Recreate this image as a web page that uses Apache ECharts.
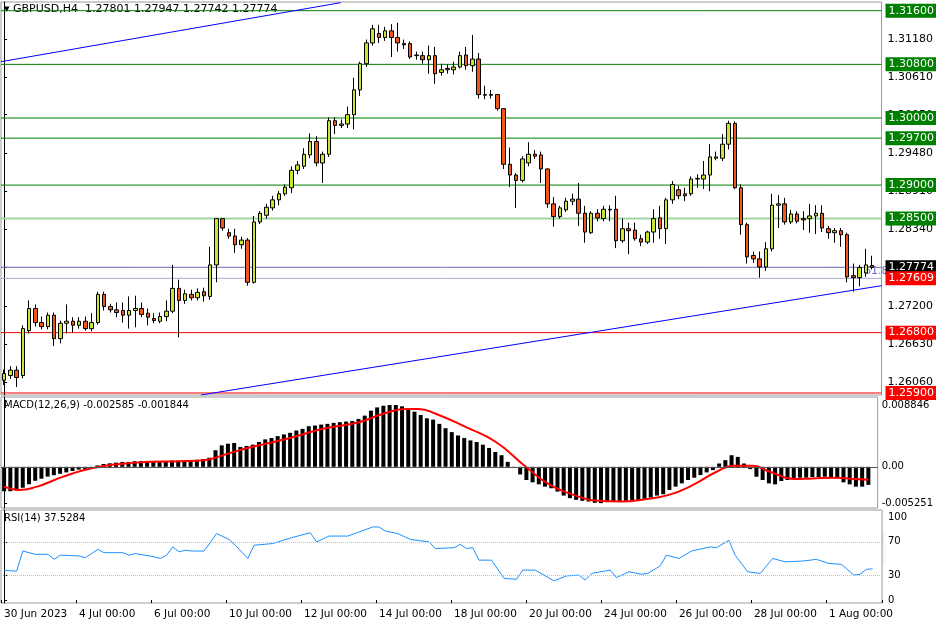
<!DOCTYPE html>
<html><head><meta charset="utf-8">
<script src="https://cdn.jsdelivr.net/npm/echarts@6/dist/echarts.min.js"></script>
<style>html,body{margin:0;padding:0;background:#fff}#c{width:936px;height:624px}</style>
</head><body><div id="c"></div>
<script>
// prices in 1e-4 units
const OPEN=[12609,12616,12624,12616,12683,12716,12695,12689,12706,12671,
12694,12697,12691,12697,12686,12695,12737,12719,12714,12713,
12706,12713,12716,12709,12701,12697,12704,12712,12746,12728,
12737,12732,12741,12734,12781,12850,12829,12824,12811,12818,
12755,12845,12855,12866,12878,12887,12896,12922,12928,12945,
12965,12933,12946,12996,12989,12991,13005,13042,13081,13112,
13126,13120,13130,13120,13111,13111,13093,13093,13087,13093,
13068,13072,13072,13076,13094,13078,13088,13034,13035,13035,
13014,12931,12915,12907,12933,12946,12945,12924,12872,12853,
12863,12876,12879,12858,12829,12858,12850,12863,12864,12817,
12835,12833,12820,12815,12830,12851,12835,12878,12893,12887,
12887,12909,12909,12915,12940,12940,12961,12992,12896,12841,
12795,12790,12778,12805,12870,12872,12845,12857,12850,12850,
12854,12858,12835,12829,12832,12826,12765,12762,12769,12780.1];
const CLOSE=[12619,12624,12613,12686,12716,12695,12689,12706,12671,12694,
12697,12691,12697,12686,12695,12737,12719,12714,12710,12706,
12713,12716,12707,12703,12698,12704,12712,12746,12728,12738,
12732,12740,12735,12781,12850,12836,12824,12811,12818,12755,
12845,12858,12867,12878,12887,12897,12922,12930,12946,12965,
12933,12946,12996,12989,12991,13005,13042,13081,13112,13133,
13120,13130,13120,13112,13109,13091,13094,13087,13093,13066,
13072,13074,13076,13093,13078,13088,13035,13035,13034,13014,
12931,12915,12907,12939,12946,12943,12924,12872,12853,12866,
12876,12879,12858,12830,12858,12851,12864,12864,12817,12835,
12832,12820,12815,12830,12850,12835,12878,12901,12884,12884,
12909,12910,12915,12942,12942,12961,12992,12896,12841,12793,
12790,12778,12805,12870,12872,12845,12857,12846,12848,12854,
12858,12836,12829,12832,12826,12763,12762,12777,12781,12777.4];
const HIGH=[12625,12630,12630,12691,12728,12722,12704,12710,12710,12698,
12722,12703,12703,12704,12709,12741,12741,12723,12725,12725,
12734,12735,12725,12716,12709,12710,12728,12781,12759,12744,
12744,12746,12747,12808,12850,12850,12835,12835,12823,12821,
12854,12861,12872,12884,12891,12901,12928,12936,12955,12977,
12973,12950,13001,13001,12998,13017,13060,13084,13117,13139,
13139,13136,13140,13142,13117,13114,13099,13099,13108,13106,
13081,13080,13084,13099,13106,13124,13097,13048,13042,13035,
13014,12956,12918,12943,12964,12952,12950,12925,12882,12869,
12881,12887,12903,12869,12861,12864,12869,12870,12884,12850,
12844,12844,12826,12832,12864,12869,12881,12906,12899,12896,
12913,12916,12936,12961,12950,12976,12996,12995,12901,12844,
12801,12801,12815,12887,12885,12881,12863,12861,12861,12872,
12870,12870,12839,12836,12836,12829,12783,12781,12805,12794.7];
const LOW=[12602,12611,12599,12612,12679,12689,12685,12685,12660,12664,
12679,12680,12686,12683,12682,12692,12713,12710,12703,12695,
12686,12688,12703,12691,12694,12694,12697,12709,12673,12723,
12728,12728,12726,12729,12755,12832,12820,12799,12805,12750,
12753,12842,12850,12862,12870,12884,12888,12916,12924,12940,
12928,12903,12942,12976,12985,12985,12983,13033,13076,13108,
13112,13115,13091,13099,13103,13088,13087,13081,13066,13051,
13063,13066,13065,13074,13072,13069,13029,13028,13029,13011,
12924,12897,12866,12904,12928,12939,12903,12866,12838,12850,
12860,12870,12839,12814,12827,12846,12846,12846,12806,12814,
12797,12817,12809,12812,12814,12820,12812,12872,12879,12876,
12884,12896,12894,12891,12937,12936,12953,12894,12826,12783,
12784,12762,12772,12801,12836,12841,12842,12843,12833,12829,
12827,12830,12820,12814,12808,12755,12741,12749,12763,12774.2];
const MACD_HIST=[-0.0035,-0.0035,-0.0034,-0.0030,-0.0025,-0.0020,-0.0017,-0.0014,-0.0012,-0.0010,-0.0008,-0.0006,-0.0004,-0.0003,-0.0001,0.0002,0.0004,0.0005,0.0006,0.0007,0.0007,0.0008,0.0008,0.0008,0.0008,0.0008,0.0008,0.0009,0.0009,0.0009,0.0009,0.0010,0.0011,0.0013,
.00237,.00307,.00331,.00341,.00284,.00298,.00317,.00355,.00393,.00412,.00440,.00464,.00487,.00520,.00544,.00582,.00591,.00605,.00615,.00629,.00639,.00648,.00657,.00686,.00733,.00804,.00851,.00875,.00885,.00885,.00866,.00837,.00790,.00743,.00695,.00676,.00615,.00553,.00497,.00449,.00412,.00378,.00355,.00317,.00270,.00213,.00166,.00071,-0.0001,
-.00109,-.00189,-.00222,-.00251,-.00284,-.00307,-.00355,-.00412,-.00449,-.00473,-.00487,-.00497,-.00516,-.00520,-.00506,-.00497,-.00487,-.00487,-.00482,-.00473,-.00459,-.00440,-.00412,-.00393,-.00331,-.00284,-.00237,-.00189,-.00156,-.00118,-.00080,-.00047,.00047,.00095,.00166,.00142,.00047,-.00033,-.00142,-.00189,-.00237,-.00251,-.00203,-.00189,-.00175,-.00156,-.00156,-.00147,-.00147,-.00142,-.00156,-.00166,-.00222,-.00251,-.00284,-.00284,-.002585];
const MACD_SIGNAL=[[0,-.00284],[2.4,-.00331],[5.3,-.00284],[8.1,-.00189],[11,-.00095],[13.9,-.00024],[16.8,.00024],[19.6,.00047],[23.5,.00071],[28.3,.00080],[32.1,.00095],[36,.00189],[39.8,.00284],[45.5,.00402],[51.3,.00544],[57.1,.00639],[60.9,.00757],[64.7,.00828],[66.6,.00828],[69.5,.00757],[74.3,.00568],[79.1,.00355],[83.9,0],[87.8,-.0026],[91.6,-.00402],[95.4,-.00487],[99.3,-.00497],[103.1,-.00464],[106.9,-.00402],[110.8,-.0026],[114.6,-.00071],[117.5,.00014],[120.4,.00014],[123.2,-.00071],[127.1,-.00175],[130,-.00166],[133.8,-.00156],[136.7,-.00175],[139,-.00184]];
const RSI=[[0,35.7],[2,34.8],[3,59],[5,55],[7,55],[8,49],[9,54],[12,53],[13,51],[15,61],[16,57],[19,57],[20,54],[21,56],[24,52],[25,50],[26,54],[27,64],[28,58],[29,60],[30,59],[32,59],[34,80],[36,73],[37,66],[39,50],[40,66],[43,68],[46,75],[49,81],[50,70],[52,77],[55,77],[59,88],[60,88],[61,83],[63,80],[65,73],[68,70],[69,62],[72,63],[73,67],[74,62],[75,63],[76,48],[78,48],[80,26],[82,25],[83,36],[85,36],[88,23],[90,29],[92,30],[93,24],[94,32],[97,36],[98,27],[100,34],[102,31],[103,32],[105,41],[106,54],[108,50],[110,59],[113,64],[114,63],[116,72],[117,54],[119,34],[121,32],[123,50],[125,46],[128,47],[130,49],[132,44],[134,43],[136,30],[137,31],[138,37],[139,37.5]];
const TREND_UP=[[-0.5,1.3084],[53.9,1.3172]];
const TREND_LOW=[[31.5,1.2587],[140.5,1.2750]];
const LEVELS=[
 {v:1.316,c:'#008000',bg:'#008000',w:1},{v:1.308,c:'#008000',bg:'#008000',w:1},
 {v:1.300,c:'#008000',bg:'#008000',w:1},{v:1.297,c:'#008000',bg:'#008000',w:1},
 {v:1.290,c:'#008000',bg:'#008000',w:1},{v:1.285,c:'#9fd39f',bg:'#008000',w:2},
 {v:1.27774,c:'#6c6cb0',bg:'#000000',w:1},{v:1.27609,c:'#a8a8d8',bg:'#ff0000',w:1},
 {v:1.268,c:'#ff0000',bg:'#ff0000',w:1},{v:1.259,c:'#ff0000',bg:'#ff0000',w:1}];
const PRICE_TICKS=[1.2606,1.2663,1.2720,1.2777,1.2834,1.2891,1.2948,1.3005,1.3061,1.3118];
const DATE_LABELS=['30 Jun 2023','4 Jul 00:00','6 Jul 00:00','10 Jul 00:00','12 Jul 00:00','14 Jul 00:00','18 Jul 00:00','20 Jul 00:00','24 Jul 00:00','26 Jul 00:00','28 Jul 00:00','1 Aug 00:00'];

const N=141;
const cats=Array.from({length:N},(_,i)=>String(i));
const candles=OPEN.map((o,i)=>[o/1e4,CLOSE[i]/1e4,LOW[i]/1e4,HIGH[i]/1e4]);
const F='"DejaVu Sans", Tahoma, sans-serif';
const grids=[{left:1,right:54,top:2,height:393},{left:1,right:54,top:397,height:111},{left:1,right:54,top:510,height:93}];
grids.forEach(g=>{g.show=true;g.borderColor='#9a9a9a';g.borderWidth=1;g.backgroundColor='#fff';});
const catAxis=(gi,show)=>({type:'category',gridIndex:gi,data:cats,boundaryGap:true,
  axisLine:{show:false},axisTick:{show:show,interval:(i)=>i%12===0,length:3,lineStyle:{color:'#000'}},
  axisLabel:{show:show,interval:(i)=>i%12===0,align:'left',margin:6,fontSize:10.5,fontFamily:F,color:'#000',
   formatter:(v,i)=>DATE_LABELS[Math.round(Number(v)/12)]||''}});
const valX=(gi)=>({type:'value',gridIndex:gi,min:-0.5,max:N-0.5,show:false});
const levelSeries=LEVELS.map(l=>({type:'line',xAxisIndex:3,yAxisIndex:0,silent:true,symbol:'none',
  data:[[-0.5,l.v],[N-0.5,l.v]],lineStyle:{color:l.c,width:l.w},z:1,
  endLabel:{show:true,distance:4,formatter:l.v.toFixed(5),color:'#fff',backgroundColor:l.bg,
   padding:[2,3,1,3],fontSize:11,fontFamily:F}}));
const chart=echarts.init(document.getElementById('c'));
chart.setOption({
 animation:false,backgroundColor:'#fff',
 grid:grids,
 xAxis:[catAxis(0,false),catAxis(1,false),catAxis(2,true),valX(0),valX(1),valX(2)],
 yAxis:[
  {type:'value',gridIndex:0,position:'right',min:1.2587,max:1.3173,scale:true,splitLine:{show:false},
   axisLine:{show:true,lineStyle:{color:'#000'}},axisTick:{show:true,length:3,customValues:PRICE_TICKS},
   axisLabel:{customValues:PRICE_TICKS,formatter:v=>v.toFixed(5),fontSize:11,fontFamily:F,color:'#000',margin:6}},
  {type:'value',gridIndex:1,position:'right',min:-0.0059,max:0.0100,splitLine:{show:false},
   axisLine:{show:true,lineStyle:{color:'#000'}},axisTick:{show:true,length:3,customValues:[-0.005251,0,0.008846]},
   axisLabel:{customValues:[-0.005251,0,0.008846],formatter:v=>v===0?'0.00':v.toFixed(6),fontSize:10,fontFamily:F,color:'#000',margin:4}},
  {type:'value',gridIndex:2,position:'right',min:-3.6,max:108.4,splitLine:{show:false},
   axisLine:{show:true,lineStyle:{color:'#000'}},axisTick:{show:true,length:3,customValues:[0,30,70,100]},
   axisLabel:{customValues:[0,30,70,100],fontSize:10,fontFamily:F,color:'#000',margin:6}}
 ],
 series:[
  ...levelSeries,
  {type:'line',xAxisIndex:3,yAxisIndex:0,data:TREND_UP,symbol:'none',lineStyle:{color:'#0000ff',width:1},silent:true,z:2},
  {type:'line',xAxisIndex:3,yAxisIndex:0,data:TREND_LOW,symbol:'none',lineStyle:{color:'#0000ff',width:1},silent:true,z:2},
  {type:'candlestick',xAxisIndex:0,yAxisIndex:0,data:candles,barWidth:4,z:3,
   itemStyle:{color:'#c8e632',color0:'#f0571c',borderColor:'#000',borderColor0:'#000',borderWidth:1}},
  {type:'bar',xAxisIndex:1,yAxisIndex:1,data:MACD_HIST,barWidth:4,itemStyle:{color:'#000'},
   markLine:{symbol:'none',silent:true,label:{show:false},data:[{yAxis:0}],lineStyle:{color:'#555',width:1,type:'solid'}}},
  {type:'line',xAxisIndex:4,yAxisIndex:1,data:MACD_SIGNAL,smooth:true,symbol:'none',lineStyle:{color:'#ff0000',width:2}},
  {type:'line',xAxisIndex:5,yAxisIndex:2,data:RSI,symbol:'none',lineStyle:{color:'#1e90ff',width:1},
   markLine:{symbol:'none',silent:true,label:{show:false},data:[{yAxis:70},{yAxis:30}],lineStyle:{color:'#c0c0c0',width:1,type:'dotted'}}}
 ],
 graphic:[
  {type:'text',left:680,top:530,z:-1,style:{text:'FastBull',fontSize:46,fontWeight:'bold',fontFamily:F,fill:'rgba(235,235,235,0.5)'}},
  {type:'text',left:4,top:4,style:{text:'▾ GBPUSD,H4  1.27801 1.27947 1.27742 1.27774',fontSize:11,fontFamily:F,fill:'#000'}},
  {type:'text',left:4,top:400,style:{text:'MACD(12,26,9) -0.002585 -0.001844',fontSize:10,fontFamily:F,fill:'#000'}},
  {type:'text',left:4,top:513,style:{text:'RSI(14) 37.5284',fontSize:10,fontFamily:F,fill:'#000'}},
  {type:'text',left:864,top:266,style:{text:'61.8',fontSize:11,fontFamily:F,fill:'#6c6cc8'}}
 ]
});
</script></body></html>
